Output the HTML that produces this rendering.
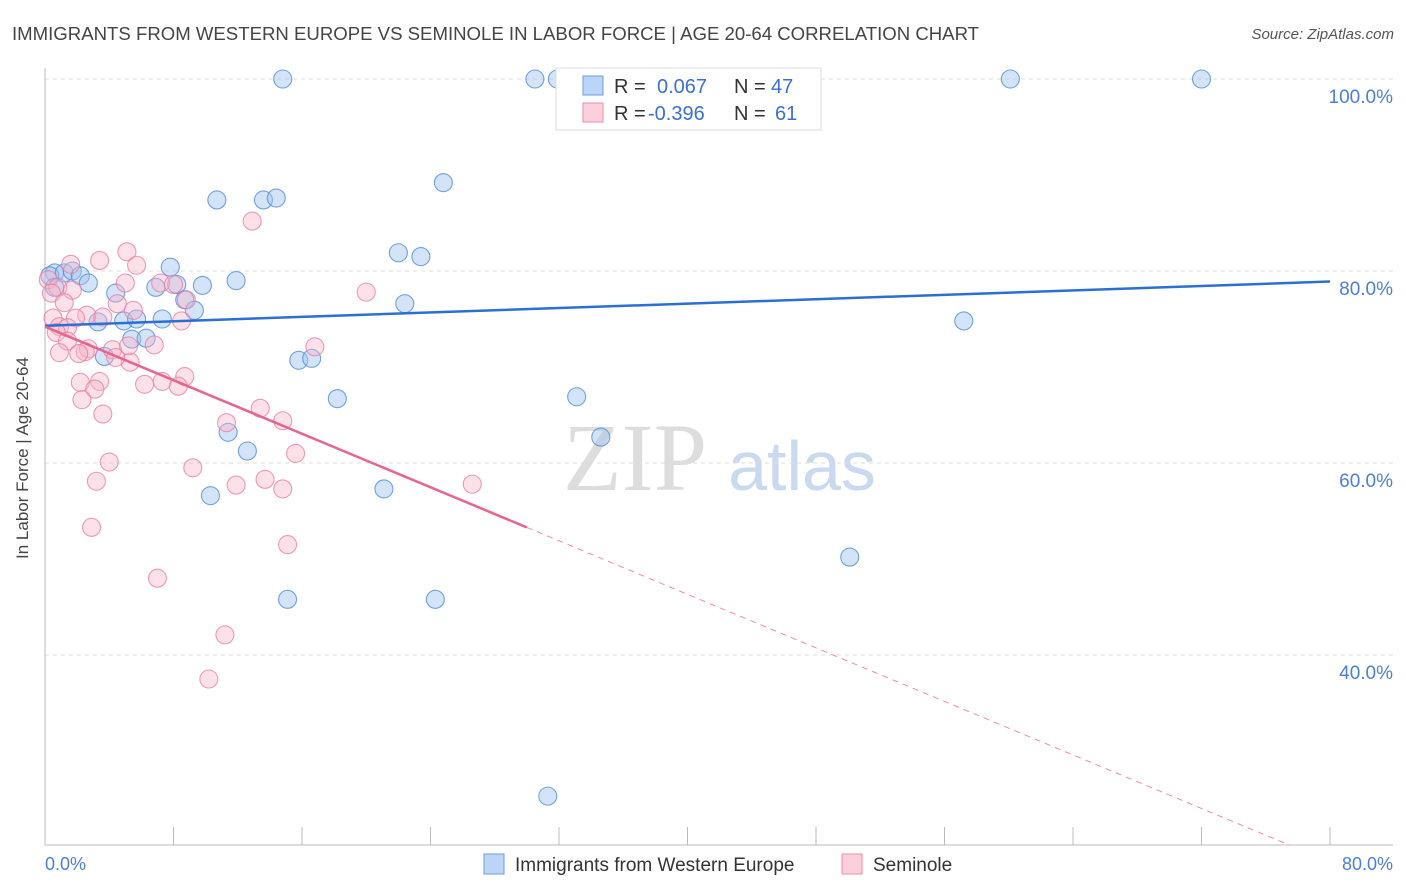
<!DOCTYPE html>
<html><head><meta charset="utf-8"><style>
body{margin:0;background:#fff;font-family:"Liberation Sans",sans-serif;}
svg{display:block}
</style></head><body>
<svg id="chart" width="1406" height="892">
<text x="12" y="40" font-size="18.6" fill="#444">IMMIGRANTS FROM WESTERN EUROPE VS SEMINOLE IN LABOR FORCE | AGE 20-64 CORRELATION CHART</text>
<text x="1394" y="39" font-size="15" fill="#555" font-style="italic" text-anchor="end">Source: ZipAtlas.com</text>
<text x="635" y="490" font-size="96" fill="#ddd" font-family="Liberation Serif,serif" text-anchor="middle">ZIP</text>
<text x="802" y="490" font-size="70" fill="#c9d9f0" text-anchor="middle">atlas</text>
<g id="grid"></g><g id="axes"></g><g id="pts"></g><g id="trend"></g>
<text x="28" y="458" font-size="17" fill="#444" text-anchor="middle" transform="rotate(-90 28 458)">In Labor Force | Age 20-64</text>
<text x="45" y="870" font-size="18" fill="#4a7fd8">0.0%</text>
<text x="1393" y="870" font-size="18" fill="#4a7fd8" text-anchor="end">80.0%</text>
<g>
<rect x="556" y="68" width="265" height="62" fill="#fff" stroke="#ddd"/>
<rect x="583" y="76" width="20" height="19" fill="#bcd4f5" stroke="#6a9fe0"/>
<rect x="583" y="103" width="20" height="19" fill="#fbcfdc" stroke="#f08aa8"/>
<text x="614" y="93" font-size="20" fill="#333">R = <tspan fill="#3b6fd4" x="657">0.067</tspan><tspan x="734">N = </tspan><tspan fill="#3b6fd4" x="771">47</tspan></text>
<text x="614" y="120" font-size="20" fill="#333">R = <tspan fill="#3b6fd4" x="648">-0.396</tspan><tspan x="734">N = </tspan><tspan fill="#3b6fd4" x="775">61</tspan></text>
</g>
<g>
<rect x="484" y="854" width="20" height="20" fill="#bcd4f5" stroke="#6a9fe0"/>
<text x="515" y="871" font-size="19" fill="#333">Immigrants from Western Europe</text>
<rect x="842" y="854" width="20" height="20" fill="#fbcfdc" stroke="#f08aa8"/>
<text x="873" y="871" font-size="19" fill="#333">Seminole</text>
</g>
</svg>
<script>
const blueX=[14.8,30.5,31.9,60.1,72.0,24.8,10.7,13.6,14.4,22.0,23.4,7.8,0.6,0.3,1.2,1.7,2.2,2.7,0.6,6.9,8.2,9.8,11.9,4.4,8.7,9.3,22.4,3.3,4.9,5.7,7.3,57.2,5.4,6.3,3.7,15.8,16.6,18.2,33.1,34.6,11.4,12.6,10.3,21.1,50.1,15.1,24.3,31.3];
const blueY=[100,100,100,100,100,89.2,87.4,87.4,87.6,81.9,81.5,80.4,79.8,79.5,79.8,80.0,79.5,78.75,78.3,78.3,78.6,78.5,79.0,77.7,77.0,75.9,76.6,74.7,74.8,75.0,75.0,74.8,72.9,73.0,71.1,70.7,70.9,66.7,66.9,62.7,63.2,61.25,56.6,57.3,50.2,45.8,45.8,25.3];
const pinkX=[12.9,5.1,1.6,3.4,5.7,0.2,0.8,5.0,0.4,1.7,7.2,8.0,8.8,1.2,4.5,5.5,20.0,2.6,3.6,0.5,1.9,8.5,0.9,1.4,0.7,6.8,1.4,2.7,2.5,4.2,16.8,0.9,2.1,5.3,4.4,8.7,7.3,6.2,3.4,2.2,8.3,3.1,2.3,3.6,11.3,14.8,13.4,4.0,9.2,15.6,3.2,11.9,13.7,14.8,26.6,2.9,15.1,7.0,11.2,10.2,5.2];
const pinkY=[85.2,82.0,80.7,81.1,80.6,79.1,78.3,78.75,77.7,78.0,78.75,78.6,77.0,76.7,76.6,75.9,77.8,75.4,75.2,75.1,75.1,74.8,74.2,74.1,73.6,72.3,72.7,71.9,71.6,71.8,72.1,71.5,71.4,70.5,71.0,69.0,68.5,68.2,68.5,68.4,68.0,67.7,66.6,65.1,64.2,64.4,65.7,60.1,59.5,61.0,58.1,57.7,58.3,57.3,57.8,53.3,51.5,48.0,42.1,37.5,72.2];
const yTicks=[100,80,60,40];
const yTickLabels=["100.0%","80.0%","60.0%","40.0%"];
const xTicks=[8,16,24,32,40,48,56,64,72,80];
const blueTrend=[74.3,78.9];
const pinkTrend=[74.2,-0.697];
const NS="http://www.w3.org/2000/svg";
const sx=v=>45+v*1285/80, sy=v=>79+(100-v)*9.6;
function mk(tag,attrs,parent){const e=document.createElementNS(NS,tag);for(const k in attrs)e.setAttribute(k,attrs[k]);parent.appendChild(e);return e;}
const grid=document.getElementById('grid'),axes=document.getElementById('axes'),pts=document.getElementById('pts'),tr=document.getElementById('trend');
yTicks.forEach((t,i)=>{
 const l=mk('line',{x1:45,x2:1393,y1:sy(t),y2:sy(t),stroke:'#ddd','stroke-dasharray':'4,4'},grid);
 
 
 const tx=mk('text',{x:1393,y:sy(t)+24,'font-size':19,fill:'#4a7fd8','text-anchor':'end'},grid);
 tx.textContent=yTickLabels[i];
 
 
});
let a=mk('line',{x1:45,x2:45,y1:68,y2:845,stroke:'#bbb'},axes);


a=mk('line',{x1:45,x2:1393,y1:845,y2:845,stroke:'#bbb'},axes);


xTicks.forEach(t=>{
 const l=mk('line',{x1:sx(t),x2:sx(t),y1:827,y2:845,stroke:'#bbb'},axes);
 
 
});
blueX.forEach((x,i)=>{
 const c=mk('circle',{cx:sx(x),cy:sy(blueY[i]),r:9,fill:'rgba(160,196,240,0.45)',stroke:'rgba(80,140,220,0.8)','stroke-width':1.1},pts);
 
 
});
pinkX.forEach((x,i)=>{
 const c=mk('circle',{cx:sx(x),cy:sy(pinkY[i]),r:9,fill:'rgba(248,180,200,0.4)',stroke:'rgba(236,120,160,0.75)','stroke-width':1.1},pts);
 
 
});
let t=mk('line',{x1:sx(0),y1:sy(blueTrend[0]),x2:sx(80),y2:sy(blueTrend[1]),stroke:'#2a6fd6','stroke-width':2.5},tr);


const pf=x=>pinkTrend[0]+pinkTrend[1]*x;
t=mk('line',{x1:sx(0),y1:sy(pf(0)),x2:sx(30),y2:sy(pf(30)),stroke:'#e8648f','stroke-width':2.5},tr);


const xe=(20.2-pinkTrend[0])/pinkTrend[1];
t=mk('line',{x1:sx(30),y1:sy(pf(30)),x2:sx(xe),y2:sy(pf(xe)),stroke:'#f08aa8','stroke-width':1,'stroke-dasharray':'6,5'},tr);


</script>
</body></html>
